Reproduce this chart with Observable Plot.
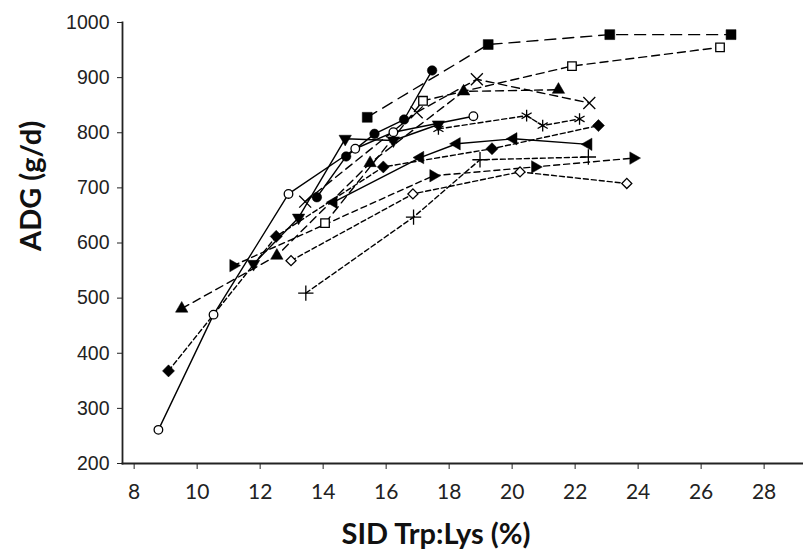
<!DOCTYPE html>
<html>
<head>
<meta charset="utf-8">
<script src="https://cdn.jsdelivr.net/npm/d3@7"></script>
<script src="https://cdn.jsdelivr.net/npm/@observablehq/plot@0.6"></script>
<style>
  html, body { margin: 0; padding: 0; background: #fff; }
  #chart svg { display: block; }
</style>
</head>
<body>
<div id="chart"></div>
<script>
// ---- Data ----
const xTicks = [8, 10, 12, 14, 16, 18, 20, 22, 24, 26, 28];
const yTicks = [200, 300, 400, 500, 600, 700, 800, 900, 1000];
const xTitle = "SID Trp:Lys (%)";
const yTitle = "ADG (g/d)";

// filled square
const sqFilledX = [15.4, 19.24, 23.1, 26.95];
const sqFilledY = [828, 960, 978, 978];
// open square
const sqOpenX = [14.06, 17.17, 21.9, 26.6];
const sqOpenY = [636, 858, 921, 955];
// filled circle
const circFilledX = [13.8, 14.73, 15.63, 16.57, 17.46];
const circFilledY = [683, 757, 798, 824, 913];
// open circle
const circOpenX = [8.77, 10.52, 12.9, 15.02, 16.23, 18.77];
const circOpenY = [261, 470, 689, 771, 801, 830];
// filled triangle down
const triDownX = [11.79, 13.22, 14.7, 16.23, 17.66];
const triDownY = [562, 646, 789, 786, 815];
// filled triangle up
const triUpX = [9.51, 12.53, 15.49, 18.46, 21.47];
const triUpY = [481, 577, 745, 875, 878];
// times (x)
const timesX = [13.43, 16.97, 18.88, 22.45];
const timesY = [675, 837, 897, 854];
// asterisk
const starX = [17.66, 20.46, 20.97, 22.14];
const starY = [807, 831, 813, 825];
// filled diamond
const diaFilledX = [9.09, 12.51, 15.91, 19.36, 22.74];
const diaFilledY = [368, 612, 738, 771, 813];
// filled triangle left
const triLeftX = [14.33, 17.08, 18.24, 20.04, 22.42];
const triLeftY = [674, 755, 780, 789, 779];
// filled triangle right
const triRightX = [11.15, 17.5, 20.73, 23.85];
const triRightY = [559, 722, 738, 754];
// open diamond
const diaOpenX = [12.98, 16.85, 20.25, 23.64];
const diaOpenY = [568, 689, 729, 708];
// plus
const plusX = [13.45, 16.87, 18.98, 22.42];
const plusY = [509, 647, 751, 756];

// ---- Styles ----
const series = [
  {x: sqFilledX, y: sqFilledY, symbol: "square", fill: "black", rotate: 0, r: 5.6, dash: "11,7"},
  {x: sqOpenX, y: sqOpenY, symbol: "square", fill: "white", rotate: 0, r: 4.8, dash: "8,5"},
  {x: circFilledX, y: circFilledY, symbol: "circle", fill: "black", rotate: 0, r: 4.8, dash: null},
  {x: circOpenX, y: circOpenY, symbol: "circle", fill: "white", rotate: 0, r: 4.3, dash: null},
  {x: triDownX, y: triDownY, symbol: "triangle", fill: "black", rotate: 180, r: 4.6, dash: null},
  {x: triUpX, y: triUpY, symbol: "triangle", fill: "black", rotate: 0, r: 4.6, dash: "8,5"},
  {x: timesX, y: timesY, symbol: "times", fill: "none", rotate: 0, r: 5.5, dash: "8,5"},
  {x: starX, y: starY, symbol: "asterisk", fill: "none", rotate: 0, r: 5.5, dash: "5,3"},
  {x: diaFilledX, y: diaFilledY, symbol: "square", fill: "black", rotate: 45, r: 4.8, dash: "5,3"},
  {x: triLeftX, y: triLeftY, symbol: "triangle", fill: "black", rotate: -90, r: 4.6, dash: null},
  {x: triRightX, y: triRightY, symbol: "triangle", fill: "black", rotate: 90, r: 4.6, dash: "6,4"},
  {x: diaOpenX, y: diaOpenY, symbol: "square", fill: "white", rotate: 45, r: 4.0, dash: "5,3"},
  {x: plusX, y: plusY, symbol: "plus", fill: "none", rotate: 0, r: 5, dash: "5,3"}
];

const marks = [];
series.forEach((s) => {
  const data = s.x.map((x, j) => ({x, y: s.y[j]}));
  marks.push(Plot.line(data, {x: "x", y: "y", stroke: "black", strokeWidth: 1.4,
    strokeDasharray: s.dash || undefined}));
});
series.forEach((s) => {
  const data = s.x.map((x, j) => ({x, y: s.y[j]}));
  marks.push(Plot.dot(data, {x: "x", y: "y", symbol: s.symbol, r: s.r, rotate: s.rotate,
    fill: s.fill, stroke: "black", strokeWidth: s.fill === "black" ? 0.5 : 1.3}));
});

const chart = Plot.plot({
  width: 803,
  height: 559,
  marginLeft: 122,
  marginRight: 0,
  marginTop: 22,
  marginBottom: 96,
  style: {background: "#fff", color: "#222", fontFamily: "Liberation Sans, Arial, sans-serif"},
  x: {domain: [7.63, 29.25]},
  y: {domain: [200, 1000]},
  marks: [
    Plot.axisX({ticks: xTicks, tickSize: 6, tickPadding: 15, fontSize: 21,
      fontFamily: "Lato, sans-serif", label: null, tickFormat: (d) => String(d)}),
    Plot.axisY({ticks: yTicks, tickSize: 5, tickPadding: 8, fontSize: 19.5,
      fontFamily: "Liberation Sans, Arial, sans-serif", label: null, tickFormat: (d) => String(d)}),
    Plot.frame({anchor: "bottom", stroke: "#222", strokeWidth: 1.8}),
    Plot.frame({anchor: "left", stroke: "#222", strokeWidth: 1.8}),
    ...marks,
    Plot.text([xTitle], {frameAnchor: "bottom", dx: -27, dy: 80, fontSize: 29, fontWeight: "bold",
      fontFamily: "Lato, sans-serif", fill: "#111"}),
    Plot.text([yTitle], {frameAnchor: "left", dx: -91, dy: 8, rotate: -90, fontSize: 29, fontWeight: "bold",
      fontFamily: "Lato, sans-serif", fill: "#111"})
  ]
});
document.getElementById("chart").appendChild(chart);
</script>
</body>
</html>
